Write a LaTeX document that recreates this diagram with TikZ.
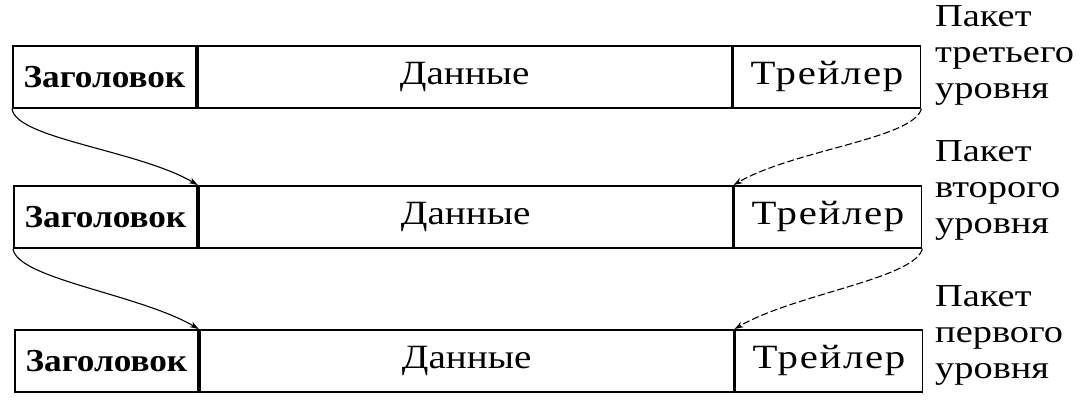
\documentclass[tikz,border=0pt]{standalone}
\usepackage{fontspec}
\setmainfont{Liberation Serif}
\usetikzlibrary{arrows.meta}
\begin{document}
\begin{tikzpicture}[x=1pt,y=-1pt,
  cell/.style={draw,line width=1.8pt,minimum height=62pt,inner sep=0pt,anchor=north west,font=\fontsize{34}{36}\selectfont\addfontfeature{FakeStretch=1.15}},
  hdr/.style={cell,minimum width=183pt,font=\fontsize{32}{36}\selectfont\bfseries\addfontfeature{FakeStretch=1.1}},
  dat/.style={cell,minimum width=534pt},
  trl/.style={cell,minimum width=187pt,font=\fontsize{34}{36}\selectfont\addfontfeature{FakeStretch=1.2,LetterSpace=5}},
  lbl/.style={anchor=west,align=left,inner sep=0pt,font=\fontsize{32}{36}\selectfont\addfontfeature{FakeStretch=1.2}},
  link/.style={line width=1.1pt,-{Stealth[length=9pt,width=6pt]}},
  dlink/.style={link,dash pattern=on 7pt off 3pt}]
\useasboundingbox (0,0) rectangle (1081,419);
% row 1
\node[hdr] (h1) at (12,45) {Заголовок};
\node[dat] (d1) at (h1.north east) {Данные};
\node[trl] (t1) at (d1.north east) {Трейлер};
% row 2
\node[hdr] (h2) at (13,185) {Заголовок};
\node[dat] (d2) at (h2.north east) {Данные};
\node[trl] (t2) at (d2.north east) {Трейлер};
% row 3
\node[hdr] (h3) at (14,329) {Заголовок};
\node[dat] (d3) at (h3.north east) {Данные};
\node[trl] (t3) at (d3.north east) {Трейлер};
% labels
\node[lbl] (l1) at (935,55) {Пакет\\третьего\\уровня};
\node[lbl] (l2) at (935,190) {Пакет\\второго\\уровня};
\node[lbl] (l3) at (935,335) {Пакет\\первого\\уровня};
% connectors
\draw[link] (h1.south west) .. controls ++(4,30) and ++(-60,-35) .. (h2.north east);
\draw[dlink] (t1.south east) .. controls ++(-8,30) and ++(60,-35) .. (t2.north west);
\draw[link] (h2.south west) .. controls ++(4,30) and ++(-60,-35) .. (h3.north east);
\draw[dlink] (t2.south east) .. controls ++(-8,30) and ++(60,-35) .. (t3.north west);
\end{tikzpicture}
\end{document}
